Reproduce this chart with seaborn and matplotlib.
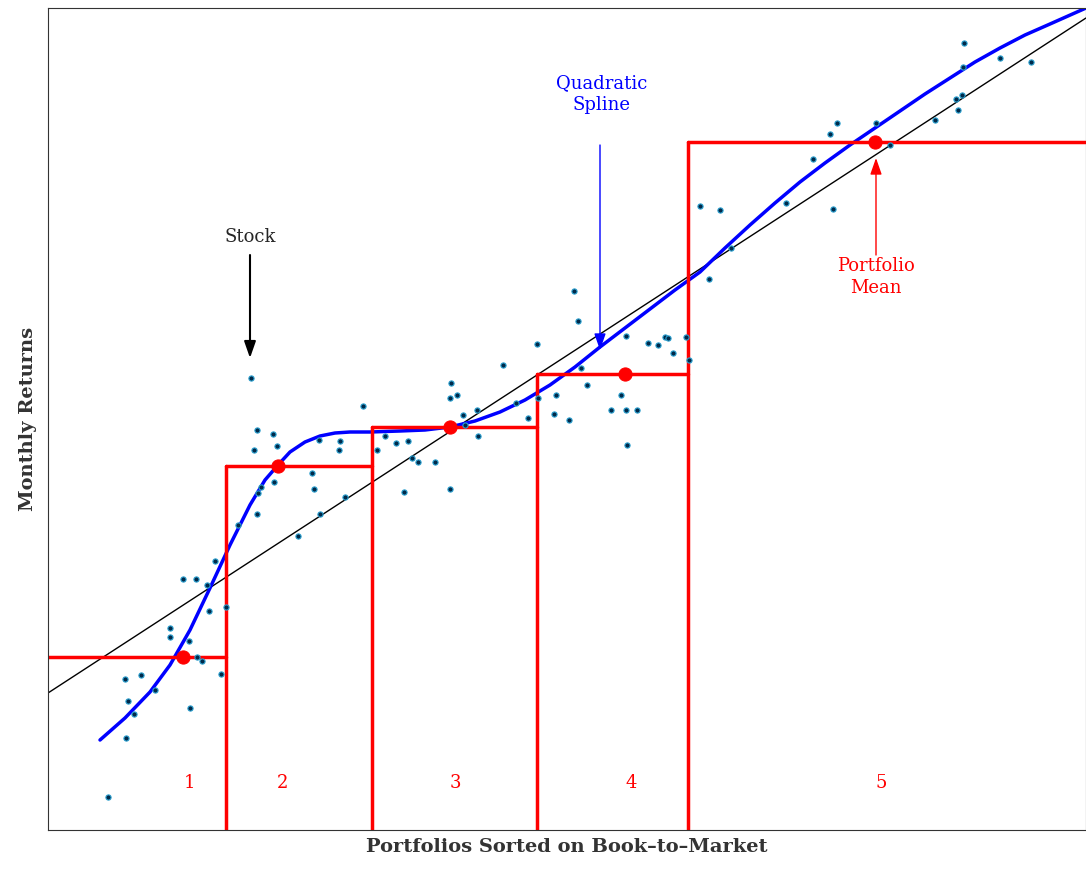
import numpy as np
import pandas as pd
import seaborn as sns
import matplotlib.pyplot as plt

sns.set_style("white")
plt.rcParams['font.family'] = ['DejaVu Serif']

# stock observations (x = book-to-market rank, y = return, picture units, y grows downward)
stock_x = [108,125,126,128,134,141,155,170,170,183,189,190,196,197,202,207,209,215,221,226,238,251,254,257,258,257,261,273,274,277,
           298,312,314,320,319,339,340,345,363,377,385,396,404,408,412,418,435,450,450,451,457,463,465,477,478,503,516,528,537,538,
           554,556,569,574,578,581,587,611,621,626,626,627,637,648,658,665,668,673,686,689,700,709,720,731,786,813,830,833,837,876,
           890,935,956,958,962,963,964,1000,1031]
stock_y = [797,679,738,701,714,675,690,628,637,579,641,708,579,657,661,585,611,561,674,607,525,378,450,430,493,514,487,434,482,446,
           536,473,489,514,440,450,441,497,406,450,436,443,492,441,458,462,462,489,398,383,395,415,425,410,436,365,403,418,344,398,
           414,395,420,291,321,368,385,410,395,336,410,445,410,343,345,337,338,353,337,360,206,279,210,248,203,159,134,209,123,123,
           145,120,99,110,95,67,43,58,62]

spline_x = [100,125,150,170,190,210,230,250,265,278,290,305,320,335,350,370,400,425,450,475,500,525,550,575,600,625,650,675,700,
            725,750,775,800,825,850,875,900,925,950,975,1000,1025,1050,1086]
spline_y = [740,718,692,665,630,588,545,505,480,465,452,442,436,433,432,432,431,430,427,421,412,400,385,367,347,328,309,290,272,
            248,225,203,182,163,145,128,111,94,78,62,48,35,24,8]

fit_x = [48, 1086]
fit_y = [693, 18]

bounds = [48, 226, 372, 537, 688, 1086]
port_mean = [657, 466, 427, 374, 142]
port_center = [183, 278, 450, 625, 875]
port_label_x = [189, 283, 455, 631, 881]
port_labels = ["1", "2", "3", "4", "5"]

fig = plt.figure(figsize=(10.86, 8.69), dpi=100)
ax = fig.add_axes([48/1086, 39/869, 1038/1086, 822/869])

ax.plot(fit_x, fit_y, color="black", lw=1)
sns.lineplot(x=spline_x, y=spline_y, color="blue", lw=2.5, ax=ax, sort=False)
sns.scatterplot(x=stock_x, y=stock_y, s=14, color="#002a4a", edgecolor="#2aa0d0", linewidth=0.8, ax=ax, zorder=3)

for i, m in enumerate(port_mean):
    ax.plot([bounds[i], bounds[i+1]], [m, m], color="red", lw=2.5)
    if i > 0:
        ax.plot([bounds[i], bounds[i]], [830, m], color="red", lw=2.5)
    ax.text(port_label_x[i], 783, port_labels[i], color="red", fontsize=13, ha="center", va="center")
sns.scatterplot(x=port_center, y=port_mean, s=90, color="red", edgecolor="red", ax=ax, zorder=4)

def arrow(x0, y0, x1, y1, color, lw):
    ax.annotate("", xy=(x1, y1), xytext=(x0, y0),
                arrowprops=dict(arrowstyle="-|>,head_width=0.35,head_length=1.0", color=color, lw=lw,
                                shrinkA=0, shrinkB=0))

ax.text(250, 237, "Stock", ha="center", va="center", fontsize=13)
arrow(250, 255, 250, 358, "black", 1.5)
ax.text(602, 94, "Quadratic\nSpline", ha="center", va="center", fontsize=13, color="blue", linespacing=1.3)
arrow(600, 145, 600, 350, "blue", 1)
ax.text(876, 277, "Portfolio\nMean", ha="center", va="center", fontsize=13, color="red", linespacing=1.3)
arrow(876, 255, 876, 158, "red", 1)

ax.set_xlim(48, 1086)
ax.set_ylim(830, 8)
ax.set_xticks([])
ax.set_yticks([])
ax.set_xlabel("Portfolios Sorted on Book–to–Market", fontsize=14, fontweight="bold", color="#333333", labelpad=6)
ax.set_ylabel("Monthly Returns", fontsize=14, fontweight="bold", color="#333333", labelpad=8)
for s in ax.spines.values():
    s.set_color("#333333")

fig.savefig("out.png", dpi=100)
